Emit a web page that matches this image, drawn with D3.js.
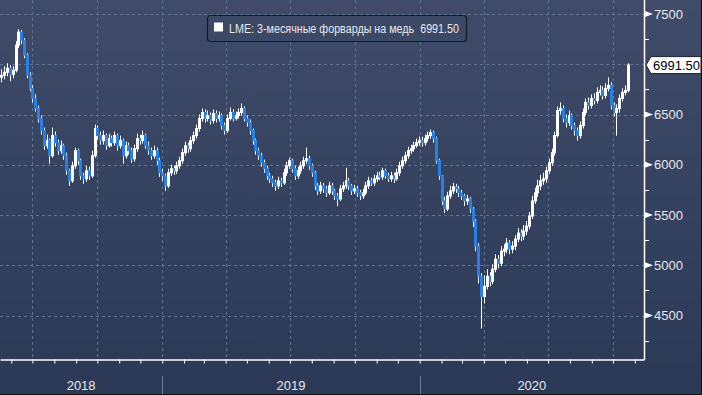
<!DOCTYPE html>
<html>
<head>
<meta charset="utf-8">
<script src="https://cdn.jsdelivr.net/npm/d3@7"></script>
<style>
  html, body { margin: 0; padding: 0; background: #2c3a57; }
  svg { display: block; font-family: "Liberation Sans", Arial, sans-serif; }
  .grid line { stroke: #5d7190; stroke-dasharray: 3,3; stroke-width: 1; }
  .tick-label { fill: #e8e8e8; font-size: 13px; }
</style>
</head>
<body>
<script>
// LME copper 3M forward, one candle per 4 calendar days (open = previous close)
var startDate = new Date(2018, 4, 18);
var stepDays = 4;
var firstOpen = 6870;
var closes = [
  6890,6920,6960,6900,6940,7190,7320,7240,7090,6890,
  6760,6660,6560,6460,6340,6190,6240,6090,6290,6220,
  6140,6190,6090,5940,5840,5990,6140,6040,5890,5860,
  5940,5890,6090,6360,6290,6240,6290,6190,6260,6220,
  6290,6190,6240,6090,6190,6140,6060,6160,6260,6240,
  6290,6190,6140,6090,6140,6040,5920,5890,5790,5920,
  5960,5940,5990,6040,6120,6190,6160,6240,6290,6360,
  6460,6520,6460,6490,6440,6510,6460,6490,6390,6340,
  6460,6520,6460,6490,6520,6560,6460,6420,6340,6240,
  6140,6090,6020,5960,5890,5860,5820,5790,5840,5820,
  5920,5990,6040,5960,5890,5940,5990,6040,6060,5990,
  5920,5790,5740,5790,5760,5720,5790,5740,5690,5660,
  5760,5790,5840,5790,5740,5760,5720,5690,5720,5790,
  5840,5820,5860,5890,5880,5940,5890,5860,5890,5860,
  5920,5990,6040,6090,6140,6160,6190,6220,6240,6220,
  6260,6290,6320,6260,6040,5890,5640,5560,5690,5740,
  5780,5760,5720,5690,5640,5660,5560,5440,5190,4890,
  4690,4790,4890,4840,4960,5060,5020,5140,5160,5220,
  5160,5190,5260,5320,5290,5340,5390,5490,5640,5720,
  5790,5840,5860,5940,6020,6120,6290,6540,6560,6460,
  6420,6490,6390,6340,6290,6390,6520,6620,6590,6660,
  6640,6720,6740,6690,6760,6790,6590,6520,6560,6660,
  6720,6740,6991.5
];
var highs = [
  6950,6980,7010,6990,6980,7230,7350,7340,7260,7110,
  6920,6790,6700,6590,6490,6370,6300,6260,6370,6330,
  6250,6240,6210,6120,5960,6030,6170,6160,6060,5920,
  5990,5980,6140,6400,6390,6330,6340,6310,6310,6290,
  6330,6310,6290,6260,6230,6220,6170,6200,6310,6300,
  6340,6310,6230,6170,6190,6170,6070,5960,5910,5960,
  6000,5990,6030,6080,6160,6230,6220,6280,6330,6400,
  6500,6560,6550,6540,6520,6550,6540,6530,6510,6420,
  6500,6570,6550,6530,6560,6610,6580,6490,6450,6360,
  6260,6170,6120,6050,5990,5920,5890,5850,5880,5870,
  5960,6030,6070,6060,5990,5980,6030,6080,6170,6090,
  6010,5940,5820,5830,5820,5790,5830,5820,5760,5720,
  5800,5830,5970,5870,5810,5800,5790,5750,5760,5830,
  5880,5870,5900,5930,5930,5970,5960,5920,5930,5920,
  5960,6030,6080,6130,6180,6200,6230,6260,6280,6280,
  6300,6330,6350,6340,6280,6060,5900,5680,5730,5790,
  5820,5810,5790,5750,5710,5700,5680,5580,5460,5220,
  4920,4900,4960,4930,5010,5110,5100,5190,5210,5270,
  5250,5240,5300,5370,5360,5400,5440,5530,5690,5770,
  5850,5900,5920,5980,6060,6160,6330,6580,6620,6590,
  6500,6540,6510,6420,6370,6430,6560,6660,6670,6700,
  6710,6770,6790,6780,6810,6870,6820,6620,6600,6700,
  6760,6790,7010
];
var lows = [
  6820,6850,6880,6830,6860,6920,7160,7200,7060,6860,
  6730,6620,6530,6420,6300,6150,6160,6010,6070,6180,
  6100,6110,6050,5900,5790,5820,5960,6000,5850,5810,
  5830,5850,5870,6070,6250,6200,6200,6150,6170,6180,
  6190,6140,6160,6010,6060,6100,6020,6030,6130,6200,
  6210,6160,6100,6050,6060,6000,5880,5840,5740,5770,
  5890,5900,5910,5960,6010,6090,6120,6130,6210,6260,
  6330,6430,6420,6430,6400,6410,6420,6430,6350,6300,
  6320,6440,6430,6440,6460,6490,6430,6380,6300,6200,
  6100,6050,5980,5920,5850,5820,5780,5740,5760,5780,
  5800,5890,5960,5920,5850,5860,5910,5960,6010,5950,
  5880,5750,5700,5710,5720,5680,5700,5700,5650,5590,
  5640,5730,5760,5750,5700,5710,5680,5650,5660,5700,
  5760,5790,5790,5830,5850,5850,5860,5830,5830,5820,
  5840,5890,5960,6010,6060,6110,6130,6170,6190,6180,
  6190,6230,6260,6220,6010,5850,5600,5520,5540,5660,
  5710,5720,5680,5650,5590,5600,5520,5380,5140,4820,
  4370,4620,4760,4790,4810,4930,4970,4990,5090,5120,
  5110,5120,5150,5230,5240,5250,5300,5360,5460,5610,
  5680,5750,5800,5820,5910,5990,6090,6270,6500,6420,
  6370,6390,6350,6290,6240,6260,6360,6490,6550,6560,
  6600,6610,6690,6650,6660,6730,6550,6480,6290,6520,
  6630,6690,6720
];
var yTicks = [4500, 5000, 5500, 6000, 6500, 7000, 7500];
var yMinorTicks = [4250, 4750, 5250, 5750, 6250, 6750, 7250];
var years = [2018, 2019, 2020];
var seriesName = "LME: 3-месячные форварды на медь";
var lastLabel = "6991.50";

var W = 702, H = 395;
var plotR = 644, plotB = 359;

var svg = d3.select("body").append("svg")
    .attr("width", W)
    .attr("height", H);

var defs = svg.append("defs");
var grad = defs.append("linearGradient")
    .attr("id", "bg")
    .attr("x1", 0).attr("y1", 0).attr("x2", 0).attr("y2", 1);
grad.append("stop").attr("offset", "0%").attr("stop-color", "#3f4b69");
grad.append("stop").attr("offset", "100%").attr("stop-color", "#2b3956");
svg.append("rect")
    .attr("width", W).attr("height", H)
    .attr("fill", "url(#bg)");

var x = d3.scaleTime()
    .domain([new Date(2018, 4, 16), new Date(2020, 10, 14)])
    .range([0, plotR]);
var y = d3.scaleLinear()
    .domain([4500, 7500])
    .range([315.5, 14]);

// build candle table
var candles = closes.map(function(c, i) {
  return {
    date: d3.timeDay.offset(startDate, i * stepDays),
    open: i === 0 ? firstOpen : closes[i - 1],
    close: c,
    high: highs[i],
    low: lows[i]
  };
});
var lastY = y(closes[closes.length - 1]);

// grid
var grid = svg.append("g").attr("class", "grid");
grid.selectAll(".hg")
    .data(yTicks)
  .enter().append("line")
    .attr("x1", 0).attr("x2", plotR)
    .attr("y1", function(d) { return Math.round(y(d)) + 0.5; })
    .attr("y2", function(d) { return Math.round(y(d)) + 0.5; });
grid.selectAll(".vg")
    .data(x.ticks(d3.timeMonth.every(3)))
  .enter().append("line")
    .attr("y1", 0).attr("y2", plotB)
    .attr("x1", function(d) { return Math.round(x(d)) + 0.5; })
    .attr("x2", function(d) { return Math.round(x(d)) + 0.5; });

// candles
var cg = svg.append("g").attr("class", "candles");
var cand = cg.selectAll("g")
    .data(candles)
  .enter().append("g");
cand.append("line")
    .attr("x1", function(d) { return Math.round(x(d.date)) + 0.5; })
    .attr("x2", function(d) { return Math.round(x(d.date)) + 0.5; })
    .attr("y1", function(d) { return y(d.high); })
    .attr("y2", function(d) { return y(d.low); })
    .attr("stroke", "#ffffff")
    .attr("stroke-width", 1);
cand.append("rect")
    .attr("x", function(d) { return Math.round(x(d.date)) - 0.5; })
    .attr("width", 2)
    .attr("y", function(d) { return y(Math.max(d.open, d.close)); })
    .attr("height", function(d) { return Math.max(1, Math.abs(y(d.open) - y(d.close))); })
    .attr("fill", function(d) { return d.close >= d.open ? "none" : "#2a7fe3"; })
    .attr("stroke", function(d) { return d.close >= d.open ? "#ffffff" : "#2a7fe3"; })
    .attr("stroke-width", 1);

// bottom axis
var xAxis = svg.append("g")
    .attr("transform", "translate(0," + (plotB + 0.5) + ")")
    .call(d3.axisBottom(x)
      .ticks(d3.timeMonth.every(1))
      .tickSize(4)
      .tickSizeOuter(0)
      .tickFormat(""));
xAxis.select(".domain").attr("stroke", "#ffffff").attr("stroke-width", 1.5);
xAxis.selectAll(".tick line").attr("stroke", "#ffffff");

// year separators and labels
var yearStarts = years.map(function(yr) { return new Date(yr, 0, 1); });
svg.selectAll(".ysep")
    .data(yearStarts.filter(function(d) { return x(d) > 0; }))
  .enter().append("line")
    .attr("x1", function(d) { return Math.round(x(d)) + 0.5; })
    .attr("x2", function(d) { return Math.round(x(d)) + 0.5; })
    .attr("y1", 376).attr("y2", H)
    .attr("stroke", "#6d7a94");
svg.selectAll(".ylab")
    .data(years)
  .enter().append("text")
    .attr("class", "tick-label")
    .attr("text-anchor", "middle")
    .attr("x", function(yr) {
      var a = Math.max(0, x(new Date(yr, 0, 1))),
          b = Math.min(plotR, x(new Date(yr + 1, 0, 1)));
      return (a + b) / 2;
    })
    .attr("y", 390)
    .text(function(d) { return d; });

// right axis
svg.append("line")
    .attr("x1", plotR + 0.5).attr("x2", plotR + 0.5)
    .attr("y1", 0).attr("y2", plotB + 1)
    .attr("stroke", "#ffffff").attr("stroke-width", 1.5);
svg.selectAll(".ymin")
    .data(yMinorTicks)
  .enter().append("line")
    .attr("x1", plotR).attr("x2", plotR + 5)
    .attr("y1", function(d) { return Math.round(y(d)) + 0.5; })
    .attr("y2", function(d) { return Math.round(y(d)) + 0.5; })
    .attr("stroke", "#ffffff");
// major ticks; the one under the last-price flag is hidden by it
var yt = svg.selectAll(".ymaj")
    .data(yTicks.filter(function(d) { return Math.abs(y(d) - lastY) > 12; }))
  .enter().append("g")
    .attr("transform", function(d) { return "translate(" + plotR + "," + y(d) + ")"; });
yt.append("path")
    .attr("d", "M1,-3L9,0L1,3Z")
    .attr("fill", "#ffffff");
yt.append("text")
    .attr("class", "tick-label")
    .attr("x", 10)
    .attr("dy", "0.36em")
    .text(function(d) { return d; });

// last price flag
var flag = svg.append("g").attr("transform", "translate(" + (plotR + 2) + "," + lastY + ")");
flag.append("path")
    .attr("d", "M0,0L5,-8.5H55V8.5H5Z")
    .attr("fill", "#ffffff")
    .attr("stroke", "#1a1f2c")
    .attr("stroke-width", 1);
flag.append("text")
    .attr("x", 7)
    .attr("dy", "0.36em")
    .attr("font-size", 13)
    .attr("fill", "#000")
    .text(lastLabel);

// legend
var lg = svg.append("g").attr("transform", "translate(207,15)");
lg.append("rect")
    .attr("x", 0.5).attr("y", 0.5)
    .attr("width", 259).attr("height", 26)
    .attr("rx", 3)
    .attr("fill", "#3b4866")
    .attr("stroke", "#141925")
    .attr("stroke-width", 1.2);
lg.append("rect")
    .attr("x", 7).attr("y", 7.5)
    .attr("width", 9).attr("height", 9)
    .attr("fill", "#ffffff");
lg.append("text")
    .attr("x", 22).attr("y", 17.5)
    .attr("font-size", 12)
    .attr("fill", "#e8e8e8")
    .attr("textLength", 230)
    .attr("lengthAdjust", "spacingAndGlyphs")
    .attr("xml:space", "preserve")
    .text(seriesName + "  " + lastLabel);

// outer dark frame on right / bottom edge
svg.append("path")
    .attr("d", "M" + (W - 0.5) + ",0V" + (H - 0.5) + "H0")
    .attr("fill", "none")
    .attr("stroke", "#0d111a");
</script>
</body>
</html>
